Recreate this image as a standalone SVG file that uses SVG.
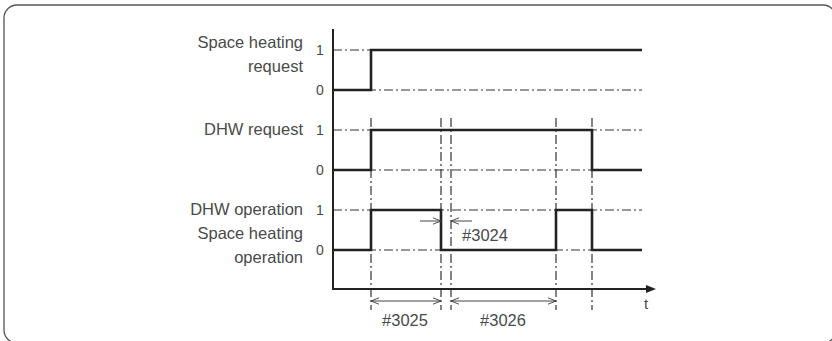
<svg xmlns="http://www.w3.org/2000/svg" width="832" height="341" viewBox="0 0 832 341">
<style>
.lbl{font-family:"Liberation Sans",Arial,sans-serif;font-size:16.5px;fill:#4a4a4a;text-anchor:end}
.num{font-family:"Liberation Sans",Arial,sans-serif;font-size:14px;fill:#4a4a4a;text-anchor:middle}
.dim{font-family:"Liberation Sans",Arial,sans-serif;font-size:16.5px;fill:#4a4a4a;text-anchor:middle}
.ref{stroke:#333;stroke-width:1.2;fill:none;stroke-dasharray:9 3 2 3}
.sig{stroke:#222;stroke-width:2.6;fill:none;stroke-linejoin:miter}
.axis{stroke:#222;stroke-width:2;fill:none}
.dl{stroke:#444;stroke-width:1;fill:none}
</style>
<defs>
<marker id="arr" viewBox="0 0 10 10" refX="10" refY="5" markerWidth="8" markerHeight="8" markerUnits="userSpaceOnUse" orient="auto-start-reverse">
<path d="M0,1 L10,5 L0,9" fill="none" stroke="#444" stroke-width="1.2"/>
</marker>
<marker id="axarr" viewBox="0 0 10 10" refX="2" refY="5" markerWidth="12" markerHeight="10" markerUnits="userSpaceOnUse" orient="auto">
<path d="M0,1 L10,5 L0,9 Z" fill="#222"/>
</marker>
</defs>
<rect x="4" y="5" width="832" height="338" rx="13" fill="none" stroke="#555" stroke-width="1.3"/>

<g id="labels">
<text class="lbl" x="303" y="48">Space heating</text>
<text class="lbl" x="303" y="72">request</text>
<text class="lbl" x="303" y="135">DHW request</text>
<text class="lbl" x="303" y="215">DHW operation</text>
<text class="lbl" x="303" y="239">Space heating</text>
<text class="lbl" x="303" y="263">operation</text>
<text class="num" x="320" y="55">1</text>
<text class="num" x="320" y="95">0</text>
<text class="num" x="320" y="135">1</text>
<text class="num" x="320" y="175">0</text>
<text class="num" x="320" y="215">1</text>
<text class="num" x="320" y="255">0</text>
<text class="num" x="646" y="309" style="font-size:15px">t</text>
</g>

<g id="reference-lines">
<path class="ref" d="M333,50H642 M333,90H642 M333,130H642 M333,170H642 M333,210H642 M333,250H642"/>
<path class="ref" d="M371,118V310 M441,118V310 M451,118V310 M556,118V310 M592,118V310"/>
</g>

<g id="axes">
<path class="axis" d="M333,29V289H648" marker-end="url(#axarr)"/>
</g>

<g id="space-heating-request">
<path class="sig" d="M333,90H371V50H642"/>
</g>
<g id="dhw-request">
<path class="sig" d="M333,170H371V130H592V170H642"/>
</g>
<g id="dhw-operation">
<path class="sig" d="M333,250H371V210H441V250H556V210H592V250H642"/>
</g>

<g id="connectors">
<path class="dl" d="M420,221H441" marker-end="url(#arr)"/>
<path class="dl" d="M472,221H451" marker-end="url(#arr)"/>
<path class="dl" d="M371,301H441" marker-start="url(#arr)" marker-end="url(#arr)"/>
<path class="dl" d="M451,301H556" marker-start="url(#arr)" marker-end="url(#arr)"/>
</g>
<g id="dim-labels">
<text class="dim" x="485" y="241">#3024</text>
<text class="dim" x="405" y="326">#3025</text>
<text class="dim" x="503" y="326">#3026</text>
</g>
</svg>
